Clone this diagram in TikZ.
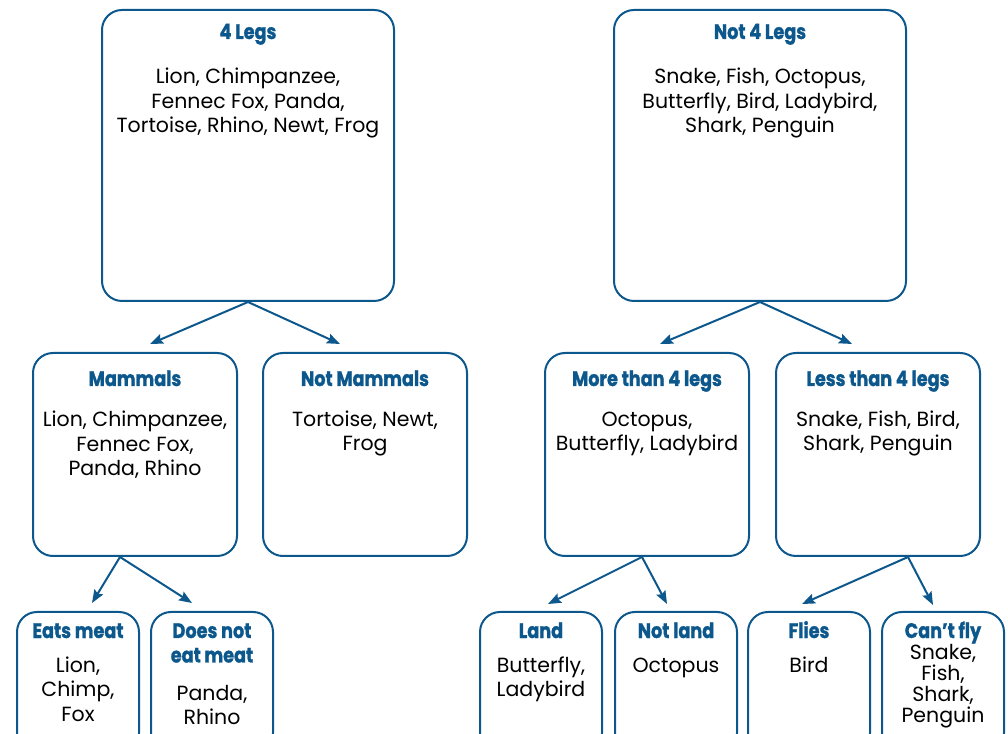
\documentclass[tikz,border=0pt]{standalone}
\usepackage{fontspec}
\setmainfont{Poppins}
\newfontfamily\headfont[FakeStretch=0.84, FakeBold=1.2]{Poppins}
\usepackage{tikz}
\usetikzlibrary{arrows.meta,positioning,calc}

\definecolor{treeblue}{RGB}{12,87,140}

\begin{document}
\begin{tikzpicture}[
    x=1pt, y=1pt,
    box/.style={draw=treeblue, line width=2pt, rounded corners=20pt, inner sep=0pt},
    bigbox/.style={box, minimum width=292pt, minimum height=291pt},
    midbox/.style={box, minimum width=204pt, minimum height=203pt},
    smallbox/.style={box, minimum width=122pt, minimum height=141pt},
    headtext/.style={anchor=base, inner sep=0pt, align=center, text=treeblue, font=\headfont\bfseries\fontsize{21}{24.5}\selectfont},
    bodytext/.style={anchor=base, inner sep=0pt, align=center, font=\fontsize{20.5}{24.5}\selectfont},
    arrow/.style={-{Stealth[length=13pt, width=10pt, inset=2pt]}, draw=treeblue, line width=2pt}
]
    \useasboundingbox (0,0) rectangle (1008,733);

    % top level (base = last line)
    \node[bigbox] (four) at (248,577.5) {};
    \node[bigbox] (notfour) at (760,577.5) {};
    \node[headtext] (fourH) at ([yshift=-30pt]four.north) {4 Legs};
    \node[bodytext] (fourB) at ([yshift=-124pt]four.north) {Lion, Chimpanzee,\\Fennec Fox, Panda,\\Tortoise, Rhino, Newt, Frog};
    \node[headtext] (notfourH) at ([yshift=-30pt]notfour.north) {Not 4 Legs};
    \node[bodytext] (notfourB) at ([yshift=-124pt]notfour.north) {Snake, Fish, Octopus,\\Butterfly, Bird, Ladybird,\\Shark, Penguin};

    % second level
    \node[midbox] (mam) at (135,278.5) {};
    \node[midbox] (notmam) at (365,278.5) {};
    \node[midbox] (more) at (647,278.5) {};
    \node[midbox] (less) at (878,278.5) {};
    \node[headtext] (mamH) at ([yshift=-34pt]mam.north) {Mammals};
    \node[bodytext] (mamB) at ([yshift=-124pt]mam.north) {Lion, Chimpanzee,\\Fennec Fox,\\Panda, Rhino};
    \node[headtext] (notmamH) at ([yshift=-34pt]notmam.north) {Not Mammals};
    \node[bodytext] (notmamB) at ([yshift=-99pt]notmam.north) {Tortoise, Newt,\\Frog};
    \node[headtext] (moreH) at ([yshift=-34pt]more.north) {More than 4 legs};
    \node[bodytext] (moreB) at ([yshift=-99pt]more.north) {Octopus,\\Butterfly, Ladybird};
    \node[headtext] (lessH) at ([yshift=-34pt]less.north) {Less than 4 legs};
    \node[bodytext] (lessB) at ([yshift=-99pt]less.north) {Snake, Fish, Bird,\\Shark, Penguin};

    % third level
    \node[smallbox] (eats) at (78,50.5) {};
    \node[smallbox] (noeat) at (212,50.5) {};
    \node[smallbox] (land) at (541,50.5) {};
    \node[smallbox] (notland) at (676,50.5) {};
    \node[smallbox] (flies) at (809,50.5) {};
    \node[smallbox] (cantfly) at (943,50.5) {};
    \node[headtext] (eatsH) at ([yshift=-27pt]eats.north) {Eats meat};
    \node[bodytext] (eatsB) at ([yshift=-110pt]eats.north) {Lion,\\Chimp,\\Fox};
    \node[headtext] (noeatH) at ([yshift=-51.5pt]noeat.north) {Does not\\eat meat};
    \node[bodytext] (noeatB) at ([yshift=-113.5pt]noeat.north) {Panda,\\Rhino};
    \node[headtext] (landH) at ([yshift=-27pt]land.north) {Land};
    \node[bodytext] (landB) at ([yshift=-85.5pt]land.north) {Butterfly,\\Ladybird};
    \node[headtext] (notlandH) at ([yshift=-27pt]notland.north) {Not land};
    \node[bodytext] (notlandB) at ([yshift=-61pt]notland.north) {Octopus};
    \node[headtext] (fliesH) at ([yshift=-27pt]flies.north) {Flies};
    \node[bodytext] (fliesB) at ([yshift=-61pt]flies.north) {Bird};
    \node[headtext] (cantflyH) at ([yshift=-27pt]cantfly.north) {Can’t fly};
    \node[bodytext, font=\fontsize{20.5}{21}\selectfont] (cantflyB) at ([yshift=-111pt]cantfly.north) {Snake,\\Fish,\\Shark,\\Penguin};

    % arrows
    \draw[arrow] (four.south) -- ($(mam.north)+(15,8)$);
    \draw[arrow] (four.south) -- ($(notmam.north)+(-25,8)$);
    \draw[arrow] (notfour.south) -- ($(more.north)+(13,8)$);
    \draw[arrow] (notfour.south) -- ($(less.north)+(-26,8)$);
    \draw[arrow] ($(mam.south)+(-15,0)$) -- ($(eats.north)+(14,8)$);
    \draw[arrow] ($(mam.south)+(-15,0)$) -- ($(noeat.north)+(-20,8)$);
    \draw[arrow] ($(more.south)+(-5,0)$) -- ($(land.north)+(7,7)$);
    \draw[arrow] ($(more.south)+(-5,0)$) -- ($(notland.north)+(-9,7)$);
    \draw[arrow] ($(less.south)+(30,0)$) -- ($(flies.north)+(-7,7)$);
    \draw[arrow] ($(less.south)+(30,0)$) -- ($(cantfly.north)+(-10,6)$);
\end{tikzpicture}
\end{document}
